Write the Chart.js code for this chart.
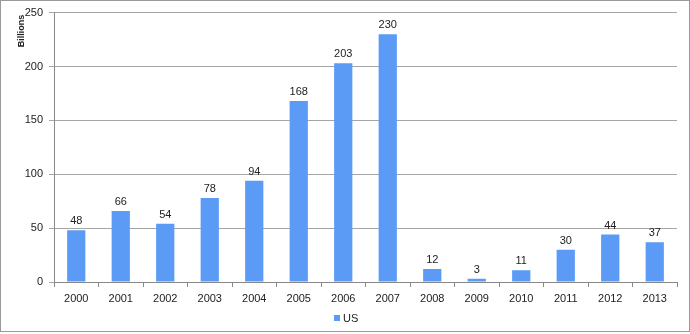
<!DOCTYPE html>
<html>
<head>
<meta charset="utf-8">
<script src="https://cdn.jsdelivr.net/npm/chart.js@4"></script>
<style>
body{margin:0;background:#fff;}
#wrap{position:absolute;left:0;top:0;width:688px;height:330px;border:1px solid #9a9a9a;}
canvas{position:absolute;left:-1px;top:-1px;}
</style>
</head>
<body>
<div id="wrap"><canvas id="chart" width="690" height="334"></canvas></div>
<script>
const years = ['2000','2001','2002','2003','2004','2005','2006','2007','2008','2009','2010','2011','2012','2013'];
const usValues = [48,66,54,78,94,168,203,230,12,3,11,30,44,37];
const yTicks = [0,50,100,150,200,250];
const barColor = '#5b9bf6';

Chart.defaults.font.family = "'Liberation Sans', Arial, sans-serif";
Chart.defaults.font.size = 11;
Chart.defaults.color = '#222';

// value labels above bars, rotated axis title at top, legend under the axis
const extras = {
	id:'extras',
	afterDatasetsDraw(chart){
		const ctx = chart.ctx;
		const meta = chart.getDatasetMeta(0);
		ctx.save();
		ctx.font = "11px 'Liberation Sans', Arial, sans-serif";
		ctx.fillStyle = '#222';
		ctx.textAlign = 'center';
		ctx.textBaseline = 'middle';
		meta.data.forEach(function(bar, i){
			ctx.fillText(usValues[i], bar.x, bar.y - 9);
		});
		// legend
		const ds = chart.data.datasets[0];
		const cx = chart.width / 2;
		ctx.textAlign = 'left';
		ctx.fillStyle = ds.backgroundColor;
		ctx.fillRect(cx - 11, 315, 6, 6);
		ctx.fillStyle = '#222';
		ctx.fillText(ds.label, cx - 2, 318.5);
		// axis title
		ctx.textAlign = 'center';
		ctx.translate(22, 31);
		ctx.rotate(-Math.PI/2);
		ctx.font = "bold 9px 'Liberation Sans', Arial, sans-serif";
		ctx.fillText('Billions', 0, 0);
		ctx.restore();
	}
};

const stat = document.querySelector('#chart');
let chart = new Chart(stat, {
	type:'bar',
	data:{
		labels:years,
		datasets:[{
			label:'US',
			data:usValues,
			backgroundColor:barColor,
			categoryPercentage:1,
			barPercentage:0.41,
		}]
	},
	options:{
		responsive:false,
		animation:false,
		layout:{padding:{top:12, right:13, left:0, bottom:28}},
		plugins:{
			legend:{display:false},
			tooltip:{enabled:false}
		},
		scales:{
			x:{
				afterFit(scale){ scale.height = 24; },
				grid:{offset:true, drawOnChartArea:false, color:'#888', tickLength:5},
				border:{color:'#888'},
				ticks:{padding:5}
			},
			y:{
				min:0, max:250,
				afterBuildTicks(scale){ scale.ticks = yTicks.map(v => ({value:v})); },
				afterFit(scale){ scale.width = 54; },
				grid:{color:'#a6a6a6', tickLength:5},
				border:{color:'#888'},
				ticks:{padding:6}
			}
		}
	},
	plugins:[extras]
});
</script>
</body>
</html>
